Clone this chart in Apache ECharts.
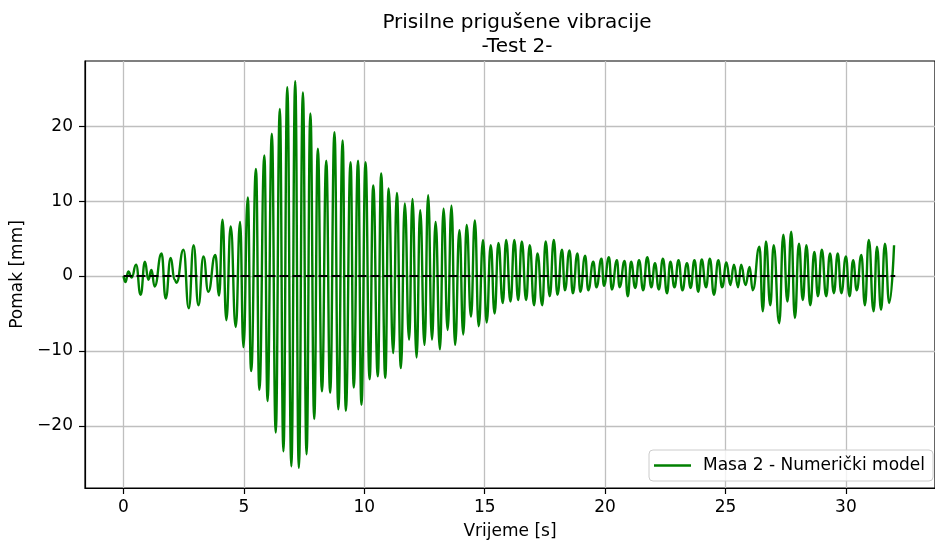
<!DOCTYPE html>
<html>
<head>
<meta charset="utf-8">
<script src="https://cdn.jsdelivr.net/npm/echarts@6/dist/echarts.min.js"></script>
<style>
  html, body { margin: 0; padding: 0; background: #fff; }
  #chart { width: 935px; height: 548px; }
</style>
</head>
<body>
<div id="chart"></div>
<script>
// peaks and troughs of the Masa 2 response
var vrijeme = [
  0.00, 0.08, 0.20, 0.34, 0.52, 0.71, 0.89, 1.03, 1.16, 1.29,
  1.58, 1.75, 1.96, 2.12, 2.20, 2.49, 2.71, 2.91, 3.11, 3.32,
  3.52, 3.81, 3.97, 4.11, 4.27, 4.45, 4.66, 4.84, 4.98, 5.16,
  5.30, 5.50, 5.64, 5.85, 5.98, 6.16, 6.32, 6.49, 6.64, 6.80,
  6.97, 7.13, 7.28, 7.45, 7.60, 7.76, 7.92, 8.07, 8.24, 8.42,
  8.58, 8.76, 8.92, 9.10, 9.23, 9.43, 9.56, 9.74, 9.88, 10.05,
  10.22, 10.37, 10.56, 10.70, 10.87, 11.01, 11.20, 11.35, 11.52, 11.68,
  11.86, 12.00, 12.17, 12.32, 12.50, 12.65, 12.81, 12.96, 13.14, 13.29,
  13.46, 13.62, 13.77, 13.95, 14.11, 14.25, 14.43, 14.59, 14.75, 14.93,
  15.08, 15.25, 15.41, 15.57, 15.75, 15.89, 16.07, 16.23, 16.39, 16.54,
  16.72, 16.87, 17.05, 17.19, 17.39, 17.53, 17.70, 17.87, 18.02, 18.21,
  18.33, 18.52, 18.66, 18.85, 18.97, 19.17, 19.30, 19.51, 19.64, 19.85,
  19.95, 20.16, 20.28, 20.49, 20.60, 20.81, 20.94, 21.08, 21.25, 21.41,
  21.58, 21.75, 21.92, 22.07, 22.23, 22.40, 22.57, 22.71, 22.88, 23.05,
  23.21, 23.40, 23.55, 23.71, 23.87, 24.01, 24.19, 24.35, 24.52, 24.70,
  24.86, 25.04, 25.20, 25.35, 25.52, 25.65, 25.83, 26.00, 26.13, 26.41,
  26.55, 26.68, 26.86, 27.00, 27.23, 27.40, 27.57, 27.73, 27.88, 28.05,
  28.21, 28.36, 28.52, 28.69, 28.84, 29.00, 29.18, 29.34, 29.50, 29.66,
  29.81, 30.00, 30.15, 30.30, 30.45, 30.64, 30.79, 30.95, 31.15, 31.29,
  31.46, 31.62, 31.80, 32.00
];
var pomak = [
  0.0, -0.8, 0.6, -0.2, 1.5, -2.5, 1.9, -0.5, 0.8, -1.4,
  3.0, -3.0, 2.4, -0.5, -0.9, 3.5, -4.3, 4.1, -3.9, 2.6,
  -2.1, 2.8, -2.6, 7.5, -5.9, 6.6, -6.8, 7.2, -9.5, 10.5,
  -12.7, 14.3, -15.2, 16.1, -16.7, 19.0, -20.9, 22.3, -23.4, 25.2,
  -25.4, 26.0, -25.6, 24.5, -23.8, 21.7, -19.1, 17.0, -15.4, 15.4,
  -15.6, 19.2, -17.8, 18.1, -18.0, 15.2, -14.9, 15.4, -17.2, 15.2,
  -13.8, 12.1, -13.4, 13.7, -13.6, 11.7, -10.3, 11.1, -12.3, 9.7,
  -8.5, 10.3, -10.9, 8.8, -9.2, 10.8, -8.5, 7.2, -9.8, 9.0,
  -7.2, 9.4, -9.2, 6.1, -7.8, 6.8, -5.4, 7.4, -6.7, 4.8,
  -6.2, 4.1, -5.0, 4.4, -3.6, 4.8, -3.4, 4.8, -3.2, 4.6,
  -3.2, 4.1, -3.9, 3.0, -3.9, 4.6, -2.7, 4.8, -2.5, 3.5,
  -1.9, 3.4, -2.3, 3.0, -2.1, 2.7, -1.9, 1.9, -1.5, 2.3,
  -1.3, 2.5, -1.8, 2.1, -1.5, 2.0, -2.7, 1.9, -1.6, 2.1,
  -1.9, 2.5, -1.5, 1.7, -1.8, 2.3, -2.3, 1.9, -1.5, 2.1,
  -1.9, 1.7, -1.6, 2.1, -2.1, 2.2, -1.5, 2.3, -2.5, 2.1,
  -1.5, 1.8, -1.2, 1.5, -1.5, 1.5, -1.2, 1.2, -1.9, 3.9,
  -4.7, 4.6, -3.9, 4.1, -6.3, 5.5, -3.4, 5.9, -5.6, 4.3,
  -3.2, 4.1, -3.9, 3.2, -2.7, 3.5, -2.7, 3.0, -2.3, 3.0,
  -2.3, 2.6, -2.7, 2.1, -1.9, 2.8, -3.9, 4.8, -4.7, 3.9,
  -4.5, 4.3, -3.6, 4.1
];
var nulaVrijeme = [0, 32.05];
var nulaPomak = [0, 0];
var xTicks = [0, 5, 10, 15, 20, 25, 30];
var yTicks = [-20, -10, 0, 10, 20];

var font = 'DejaVu Sans';
var masa2 = vrijeme.map(function (t, i) { return [t, pomak[i]]; });
var nula = nulaVrijeme.map(function (t, i) { return [t, nulaPomak[i]]; });

var chart = echarts.init(document.getElementById('chart'));
chart.setOption({
  animation: false,
  title: {
    text: 'Prisilne prigušene vibracije\n-Test 2-',
    left: 512,
    top: 6,
    textAlign: 'center',
    textStyle: {
      fontFamily: font,
      fontSize: 20,
      fontWeight: 'normal',
      color: '#000',
      lineHeight: 24
    }
  },
  grid: {
    left: 85,
    right: -8,
    top: 61,
    bottom: 60,
    show: true,
    borderColor: '#000',
    borderWidth: 1.2,
    containLabel: false
  },
  legend: {
    data: [{ name: 'Masa 2 - Numerički model', icon: 'rect' }],
    right: 2,
    top: 450,
    orient: 'vertical',
    itemWidth: 37,
    itemHeight: 2.5,
    padding: [6, 8, 6, 5],
    borderColor: '#cccccc',
    borderWidth: 1,
    borderRadius: 4,
    backgroundColor: 'rgba(255,255,255,0.8)',
    textStyle: {
      fontFamily: font,
      fontSize: 17,
      color: '#000',
      lineHeight: 19,
      padding: [0, 0, 0, 7]
    }
  },
  xAxis: {
    type: 'value',
    min: -1.6,
    max: 33.7,
    name: 'Vrijeme [s]',
    nameLocation: 'middle',
    nameGap: 35,
    nameTextStyle: { fontFamily: font, fontSize: 17, color: '#000' },
    axisLine: { show: true, onZero: false, lineStyle: { color: '#000', width: 1.2 } },
    axisTick: {
      show: true, length: 6, lineStyle: { color: '#000', width: 1.2 },
      customValues: xTicks
    },
    axisLabel: {
      fontFamily: font, fontSize: 17, color: '#000', margin: 11,
      customValues: xTicks
    },
    splitLine: { show: true, lineStyle: { color: '#bfbfbf', width: 1.3 } }
  },
  yAxis: {
    type: 'value',
    min: -28.3,
    max: 28.7,
    name: 'Pomak [mm]',
    nameLocation: 'middle',
    nameGap: 48,
    nameTextStyle: { fontFamily: font, fontSize: 17, color: '#000' },
    axisLine: { show: true, onZero: false, lineStyle: { color: '#000', width: 1.2 } },
    axisTick: {
      show: true, length: 6, lineStyle: { color: '#000', width: 1.2 },
      customValues: yTicks
    },
    axisLabel: {
      fontFamily: font, fontSize: 17, color: '#000', margin: 12,
      customValues: yTicks,
      formatter: function (v) { return v < 0 ? '\u2212' + Math.abs(v) : String(v); }
    },
    splitLine: { show: true, lineStyle: { color: '#bfbfbf', width: 1.3 } }
  },
  series: [
    {
      name: 'Masa 2 - Numerički model',
      type: 'line',
      data: masa2,
      symbol: 'none',
      smooth: 0.5,
      smoothMonotone: 'x',
      lineStyle: { color: '#008000', width: 2.4 },
      itemStyle: { color: '#008000' },
      z: 2
    },
    {
      name: 'nula',
      type: 'line',
      data: nula,
      symbol: 'none',
      lineStyle: { color: '#000', width: 2.2, type: [9, 4] },
      z: 3
    }
  ]
});
</script>
</body>
</html>
